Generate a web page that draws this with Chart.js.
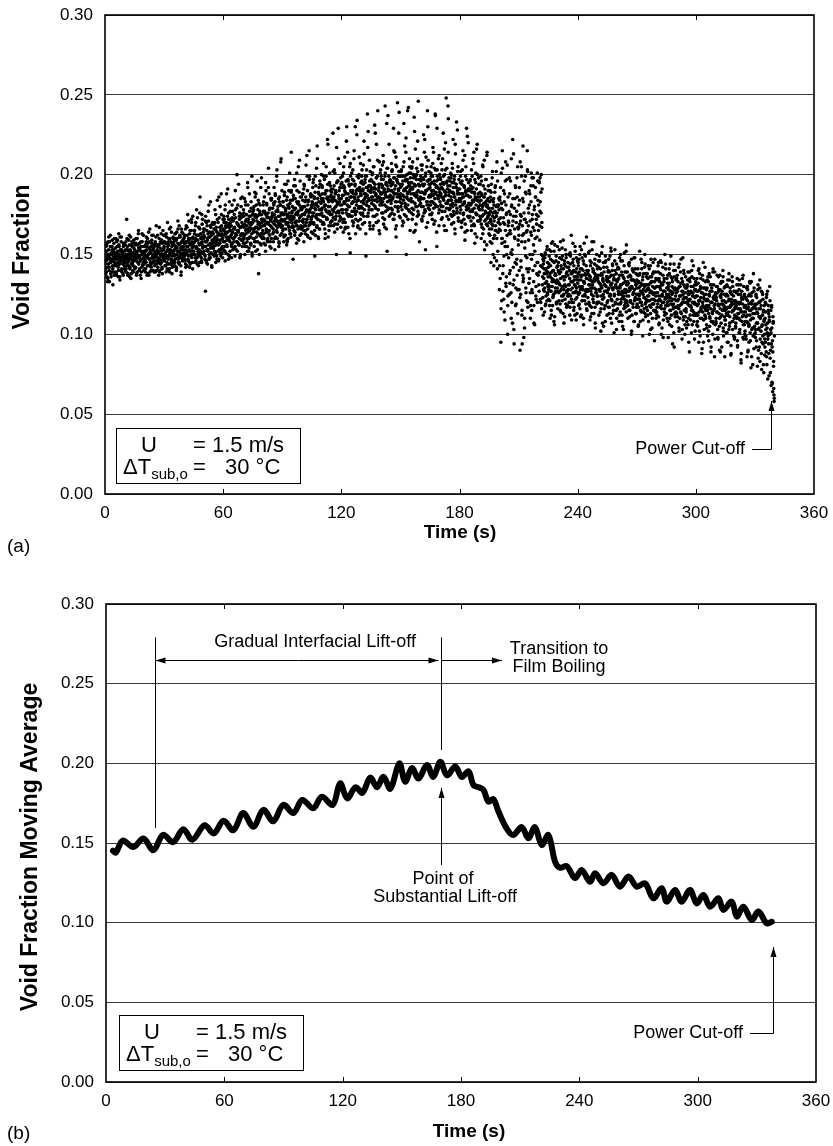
<!DOCTYPE html>
<html>
<head>
<meta charset="utf-8">
<script src="https://cdn.jsdelivr.net/npm/chart.js@4.4.1/dist/chart.umd.min.js"></script>
<style>
  html, body { margin: 0; padding: 0; background: #fff; }
  body { width: 833px; height: 1146px; position: relative; overflow: hidden; }
  canvas { position: absolute; left: 0; }
  #chartA { top: 0; }
  #chartB { top: 575px; }
</style>
</head>
<body>
<canvas id="chartA" width="833" height="560"></canvas>
<canvas id="chartB" width="833" height="571"></canvas>
<script>
// Void fraction vs time, U = 1.5 m/s, dT_sub,o = 30 C

// Axis ticks
const timeTicks = [0, 60, 120, 180, 240, 300, 360];
const voidTicks = [0, 0.05, 0.10, 0.15, 0.20, 0.25, 0.30];

// (a) raw void fraction samples, in thousandths, one every 0.25 s per pass;
//     three passes, each shifted by a fraction of a step
const rawStep = 0.25;
const raw0 = [
  148,141,155,152,136,149,158,144,150,133,147,162,145,139,153,150,131,146,157,143,
  151,144,160,138,149,155,147,142,163,150,136,153,146,158,141,149,152,137,156,148,
  145,156,150,139,172,148,153,143,159,147,136,152,161,144,149,155,140,151,146,157,
  153,142,148,160,137,151,156,145,165,149,141,154,147,158,139,152,150,144,162,148,
  146,155,139,152,161,148,143,157,150,137,154,166,145,151,142,159,148,153,140,156,
  152,143,158,149,168,146,140,155,151,137,160,147,154,144,163,150,141,157,148,153,
  155,146,162,150,139,157,152,170,144,158,149,141,160,153,147,164,138,156,151,145,
  158,149,143,163,154,140,160,152,171,147,156,145,162,151,143,166,155,148,159,150,
  153,161,147,157,142,168,155,150,175,146,159,152,163,144,157,149,170,154,141,160,
  157,150,165,145,160,154,178,148,162,152,143,167,156,186,151,161,146,158,172,155,
  160,152,166,147,127,158,170,153,144,163,156,181,150,161,148,167,157,142,164,154,
  163,155,149,170,158,145,167,160,184,152,162,147,173,157,151,165,188,154,160,148
];
const raw60 = [
  165,153,172,158,146,168,161,188,155,164,150,176,159,167,152,170,162,148,181,157,
  160,172,154,167,149,178,163,158,200,152,169,165,156,174,148,162,185,159,170,155,
  168,157,176,162,150,183,165,171,155,160,192,166,152,174,161,169,157,179,163,149,
  170,160,178,155,166,186,152,173,164,196,158,169,138,175,162,181,167,156,172,163,
  172,161,183,157,168,176,152,190,165,174,159,170,204,163,178,155,168,185,160,173,
  174,163,158,181,169,153,187,172,165,196,160,177,168,155,183,171,162,208,167,175,
  176,165,183,158,171,194,162,178,169,156,186,174,160,180,167,201,172,163,189,170,
  177,168,147,185,173,197,164,179,170,157,190,175,166,183,171,209,162,178,168,186,
  179,167,188,172,158,193,176,165,184,170,212,162,181,174,168,197,177,160,186,173,
  180,170,192,163,176,185,149,199,174,182,167,218,172,161,188,178,166,194,175,183,
  178,193,169,185,207,174,188,160,181,199,172,190,222,176,184,165,195,180,170,187,
  191,175,183,226,168,186,179,201,172,189,150,183,196,177,210,185,171,192,181,167
];
const raw120 = [
  185,172,199,178,164,193,182,211,170,188,176,230,181,167,196,184,175,205,151,190,
  186,201,174,190,168,183,215,179,194,163,188,177,234,184,171,198,180,190,166,207,
  187,175,203,169,191,182,221,178,195,186,149,199,183,238,174,190,180,209,168,193,
  189,178,196,184,166,205,181,192,174,226,187,198,170,183,240,178,194,186,163,201,
  188,199,176,192,183,212,169,190,181,243,177,195,186,152,204,191,179,219,184,197,
  190,182,207,176,194,186,229,172,198,188,166,211,183,196,245,179,191,202,174,187,
  192,180,203,187,168,196,184,232,175,199,190,214,150,186,197,181,242,193,177,205,
  191,201,183,195,172,208,188,178,236,193,165,199,186,204,180,221,190,175,197,184,
  193,182,206,189,171,198,185,225,176,194,188,153,211,190,181,240,196,179,202,187,
  192,186,201,175,195,183,217,190,169,204,188,237,180,193,155,199,185,210,191,178,
  191,198,181,207,186,173,195,226,184,190,165,203,187,248,179,196,183,214,172,189,
  190,179,201,186,169,195,182,222,188,175,199,163,192,184,233,177,190,205,183,171
];
const raw180 = [
  188,176,199,183,167,194,181,215,186,172,192,159,189,205,178,187,224,174,191,182,
  186,174,197,181,165,191,178,210,184,169,189,157,186,201,175,184,219,171,188,180,
  183,171,194,178,160,188,174,206,181,166,186,153,182,197,172,180,214,168,185,176,
  179,166,190,172,145,184,169,202,176,160,181,148,177,193,165,174,208,141,180,170,
  172,128,186,165,95,179,160,215,138,170,122,183,158,196,132,175,150,206,118,168,
  170,125,188,140,163,110,181,153,222,131,174,94,166,145,192,119,177,137,205,159,
  167,128,184,90,171,142,199,115,162,218,135,176,104,158,189,126,170,148,203,120,
  168,132,181,150,110,193,162,128,175,140,198,118,165,152,186,124,172,138,201,145,
  174,131,195,159,183,120,200,167,142,149,112,146,138,129,151,119,140,133,155,125,
  136,122,149,130,110,143,127,157,133,118,140,125,152,106,137,129,146,120,134,155,
  133,145,121,138,127,158,114,141,130,149,124,136,107,144,131,153,119,138,127,142,
  137,124,150,131,112,144,128,162,120,139,133,147,115,136,126,152,130,109,141,134
];
const raw240 = [
  132,145,118,139,126,155,111,136,129,148,121,140,106,133,150,124,137,128,161,115,
  127,138,151,120,134,109,143,129,117,158,131,122,140,113,135,147,104,126,137,119,
  141,124,133,112,149,128,137,102,130,119,155,134,125,142,116,131,108,146,127,136,
  120,135,128,147,113,139,124,131,152,107,129,143,118,134,101,125,140,130,115,144,
  133,116,142,125,108,137,129,150,120,131,112,146,126,103,135,122,139,117,128,156,
  124,139,110,132,127,145,115,121,136,100,130,141,119,126,134,108,148,123,131,113,
  129,118,137,105,133,124,152,120,127,114,141,131,99,125,138,116,130,144,111,122,
  117,131,124,143,108,128,121,136,113,147,126,104,133,119,139,122,96,129,115,135,
  126,112,134,121,145,106,130,117,138,124,100,132,120,142,109,127,114,150,123,118,
  113,129,120,137,98,125,132,110,144,119,127,105,135,122,116,140,92,128,111,124,
  121,135,108,127,118,142,102,124,130,114,147,119,97,133,125,111,138,120,106,129,
  116,104,130,122,139,110,125,89,133,118,127,101,136,115,124,143,108,120,131,112
];
const raw300 = [
  119,131,106,124,112,140,95,121,128,110,135,117,88,126,114,145,123,103,129,116,
  110,125,118,134,99,121,113,138,105,127,116,92,131,120,108,141,115,124,86,119,
  122,107,130,114,126,97,136,118,110,128,89,123,133,112,119,140,102,116,125,109,
  106,120,113,131,95,124,117,103,134,111,127,87,118,125,108,130,115,99,121,112,
  117,104,126,110,135,93,120,113,128,101,116,131,82,123,108,119,137,97,114,125,
  102,118,111,129,86,121,107,124,95,115,132,109,79,119,126,104,113,138,91,117,
  113,98,124,107,119,80,128,103,116,92,134,110,121,88,105,126,99,114,76,118,
  97,120,106,89,125,101,72,115,94,109,130,85,103,68,118,92,64,107,83,58
];
const rawB0 = [
  144,152,139,157,147,135,150,161,142,148,155,138,151,146,159,141,149,153,137,145,
  150,139,147,158,143,152,136,149,155,144,161,148,140,153,146,151,138,157,149,143,
  147,153,141,149,160,145,138,152,148,156,142,150,135,147,158,144,151,139,154,149,
  141,150,157,146,152,139,148,163,144,153,149,137,155,147,142,158,151,145,140,152,
  152,146,141,158,149,155,138,150,164,147,143,153,151,140,157,148,145,162,150,139,
  149,157,144,151,140,153,162,148,145,156,139,150,158,146,152,142,149,165,147,154,
  150,143,157,148,161,145,153,140,156,149,166,151,144,158,147,155,142,152,160,146,
  153,160,147,155,142,164,150,157,145,152,168,148,161,154,139,158,150,146,163,155,
  157,149,162,144,158,151,167,155,147,160,153,142,165,156,150,172,158,145,161,152,
  155,163,150,168,146,159,154,173,149,162,157,145,166,152,160,148,175,156,151,164,
  162,150,158,171,155,146,165,159,152,177,161,148,156,168,154,163,143,159,170,157,
  158,166,152,161,175,156,149,164,159,170,146,163,157,180,153,162,168,151,160,172
];
const rawB60 = [
  162,170,155,178,164,151,167,159,174,161,147,169,183,158,165,172,156,163,177,153,
  166,158,175,161,190,163,153,170,165,181,157,168,160,176,149,167,173,162,186,159,
  163,174,160,169,155,181,166,172,158,195,164,170,154,177,167,161,183,169,151,175,
  172,164,180,158,174,167,188,161,171,153,178,166,182,169,157,175,163,198,170,160,
  168,177,163,186,171,156,175,166,181,170,160,192,173,165,179,158,172,184,167,176,
  175,166,182,171,160,188,173,168,199,164,178,170,185,157,174,181,169,210,172,163,
  171,180,166,175,189,162,177,170,184,159,173,196,168,179,165,182,174,161,190,176,
  180,172,187,165,178,170,193,168,176,183,160,175,205,171,181,167,186,174,163,179,
  175,184,170,191,168,180,163,186,177,172,199,166,183,174,215,178,169,188,172,181,
  183,176,195,170,181,165,189,178,173,204,168,185,180,160,192,175,187,171,182,200,
  179,188,174,183,169,197,181,163,190,177,185,172,219,180,168,186,176,193,184,171,
  186,178,191,173,184,203,169,188,180,176,195,166,182,229,177,190,174,185,198,172
];
const rawB120 = [
  181,192,176,187,205,172,190,183,167,196,185,178,214,188,174,194,180,160,199,186,
  189,177,197,183,170,210,186,193,175,188,181,225,191,168,184,200,179,190,172,195,
  183,196,179,190,206,174,188,185,199,163,192,181,187,217,176,193,184,170,202,189,
  192,182,200,186,174,195,189,231,180,191,170,198,185,209,178,190,165,194,184,203,
  185,197,181,193,176,208,189,172,199,187,194,166,204,183,237,190,179,196,186,175,
  193,184,202,178,195,189,215,175,191,183,206,168,197,188,180,199,226,186,194,173,
  188,199,182,194,171,205,190,186,218,180,197,174,192,185,240,189,178,201,193,165,
  195,185,204,179,191,175,198,188,227,182,193,169,200,187,210,177,194,184,158,197,
  186,196,180,203,189,174,193,185,214,178,199,190,167,205,183,230,191,181,197,175,
  194,183,199,188,172,207,190,179,196,185,238,181,192,164,203,187,197,176,212,189,
  187,197,180,192,177,210,185,194,168,200,189,220,182,195,174,191,243,184,198,179,
  193,181,198,184,174,204,189,177,195,186,166,213,183,192,179,228,188,171,197,185
];
const rawB180 = [
  184,195,178,188,171,203,186,175,193,182,212,169,190,180,197,165,187,220,179,191,
  190,177,193,182,168,199,184,173,207,179,188,163,195,181,216,175,186,171,198,183,
  178,189,172,184,196,167,180,205,175,186,158,191,177,183,169,212,181,174,193,163,
  175,162,186,171,194,157,179,168,183,143,173,189,165,176,202,160,181,152,170,185,
  166,184,135,173,201,121,160,178,143,190,114,169,155,208,130,176,162,100,186,148,
  177,138,165,196,126,180,150,107,171,213,134,161,185,118,174,144,198,128,167,156,
  162,192,123,175,146,205,112,168,137,183,98,172,154,199,129,164,141,215,117,179,
  176,141,188,126,164,201,115,172,150,193,133,178,106,160,186,122,169,145,196,137,
  181,127,168,198,143,176,116,191,136,147,128,141,114,132,150,124,138,121,145,130,
  131,144,118,138,127,152,112,135,146,123,140,108,133,156,126,137,119,142,129,116,
  140,126,153,131,115,139,128,147,121,136,159,125,134,111,143,130,148,117,137,124,
  128,142,120,135,151,124,138,109,133,145,126,140,117,131,155,122,136,129,113,146
];
const rawB240 = [
  138,125,147,130,116,141,134,153,121,137,128,110,144,132,125,149,119,135,140,127,
  123,140,131,152,118,136,127,145,113,133,141,124,158,129,138,107,134,126,143,120,
  135,120,142,128,146,114,131,124,151,137,122,133,105,139,127,145,118,130,136,112,
  126,139,117,133,124,149,110,131,137,121,144,128,115,135,125,153,120,134,103,129,
  122,134,127,141,112,130,119,146,125,108,137,123,132,116,151,128,120,139,114,131,
  131,118,136,124,143,111,128,120,134,102,129,140,117,126,148,121,133,113,138,125,
  119,132,125,106,137,122,130,115,147,127,118,134,109,128,123,142,113,131,120,136,
  128,115,135,121,131,100,126,143,117,133,122,110,138,125,119,129,147,114,124,135,
  114,130,119,139,124,107,133,121,128,145,116,125,131,98,127,135,112,122,141,118,
  125,110,132,118,128,141,106,123,115,136,121,130,94,126,119,144,113,129,117,134,
  117,128,111,133,122,104,130,118,139,124,113,127,120,148,109,131,123,100,126,115,
  123,108,131,119,127,95,121,135,112,126,117,140,106,124,130,114,119,128,102,133
];
const rawB300 = [
  112,127,118,105,132,121,114,138,99,123,116,129,91,120,134,109,125,117,142,111,
  121,106,129,115,136,102,118,124,110,131,89,120,127,113,139,107,122,116,97,126,
  108,123,114,130,98,119,127,105,137,116,111,125,92,121,133,104,118,129,86,115,
  117,101,125,112,134,95,114,122,107,129,118,88,120,136,103,115,124,110,98,127,
  105,120,111,127,92,116,131,101,119,109,125,84,114,122,135,98,112,124,106,118,
  114,99,122,108,130,89,117,105,125,112,96,120,133,103,116,81,110,127,100,119,
  101,116,92,123,107,113,85,120,104,129,97,111,118,78,106,125,94,115,109,87,
  110,95,119,86,104,127,99,113,74,108,121,90,101,117,70,96,111,80,62,99
];
const rawC0 = [
  151,138,146,156,142,133,149,153,140,158,145,150,136,147,155,143,152,139,148,160,
  143,154,149,137,151,159,145,140,156,148,134,152,146,161,139,150,144,155,147,141,
  152,140,158,147,143,155,137,150,146,162,141,153,149,138,156,145,151,143,159,148,
  147,156,142,151,138,160,149,145,154,140,157,146,152,135,150,163,143,155,148,144,
  150,141,156,145,153,137,160,148,143,158,151,139,147,155,144,162,149,140,154,146,
  155,148,139,161,150,144,156,142,152,147,167,140,157,149,145,159,138,153,150,162,
  148,158,151,143,163,149,141,155,147,160,153,139,150,167,145,157,149,143,161,152,
  156,145,163,150,159,141,154,148,166,152,144,161,149,157,137,153,164,147,158,151,
  160,151,146,166,153,158,143,162,155,149,171,157,145,160,152,165,148,156,174,150,
  152,165,158,148,170,155,162,144,159,151,167,153,176,149,163,157,145,169,154,161,
  166,155,161,149,174,158,145,168,160,153,171,147,164,157,183,151,162,169,155,150,
  154,169,160,178,151,165,157,147,172,162,156,186,153,167,159,149,175,163,155,166
];
const rawC60 = [
  158,174,166,152,181,163,170,156,168,191,160,172,149,165,177,161,168,155,173,164,
  171,160,184,166,155,173,162,179,158,169,164,194,156,172,167,150,180,163,175,168,
  160,178,167,185,157,171,163,175,168,152,181,172,160,188,165,174,156,170,199,166,
  177,166,171,160,189,175,158,181,167,174,163,184,170,150,177,168,192,161,175,171,
  165,181,172,160,177,169,195,164,182,173,158,176,169,188,162,179,171,154,185,174,
  179,170,164,192,175,183,161,177,171,203,167,180,174,158,186,169,181,176,163,190,
  168,183,175,161,187,172,179,166,194,175,158,181,170,190,176,163,184,172,214,167,
  184,174,167,193,179,162,185,175,171,201,168,182,177,159,189,173,196,180,166,178,
  171,188,180,165,194,175,183,168,206,178,172,190,161,184,176,199,170,187,179,164,
  187,174,182,197,169,186,179,162,193,181,175,210,172,189,183,166,196,178,171,185,
  176,192,184,170,199,180,166,188,178,205,173,186,194,161,183,177,201,175,190,168,
  189,171,185,202,177,193,164,184,190,174,217,181,169,196,187,176,183,207,173,194
];
const rawC120 = [
  178,195,187,170,201,183,192,166,189,178,221,184,175,197,180,163,193,186,207,174,
  194,182,171,203,188,196,177,185,230,172,190,183,199,167,186,179,211,192,176,188,
  180,199,190,176,194,184,213,170,197,188,181,203,174,192,227,185,178,196,166,190,
  197,186,178,201,191,168,205,184,194,179,188,219,175,199,186,171,192,208,181,189,
  182,194,188,206,173,197,185,191,167,201,189,180,232,193,178,186,199,174,195,187,
  196,179,190,203,185,172,198,188,214,180,193,161,205,186,195,177,190,239,183,199,
  185,202,193,178,199,187,170,208,191,182,196,223,179,200,188,172,195,184,210,190,
  198,188,176,205,192,183,200,164,194,187,216,180,197,189,174,202,246,185,193,181,
  189,199,185,172,206,194,180,197,188,222,177,201,190,183,196,170,209,186,194,178,
  197,181,205,190,176,199,187,214,182,194,171,203,189,196,229,180,192,185,168,200,
  183,194,188,172,203,191,180,199,186,216,177,195,189,165,204,182,193,235,187,178,
  196,184,175,200,189,207,180,192,170,197,186,219,181,194,176,188,202,173,191,184
];
const rawC180 = [
  191,180,202,185,170,196,188,209,176,193,183,164,199,187,229,178,190,181,195,173,
  181,196,186,171,203,189,177,192,183,214,168,197,185,176,191,161,200,184,179,194,
  186,174,181,199,169,187,178,163,193,182,209,171,188,176,197,156,184,173,190,179,
  170,183,158,177,189,166,198,174,150,185,171,162,192,168,180,146,176,196,164,181,
  178,143,169,192,116,182,157,204,127,173,149,188,109,165,181,136,197,155,124,171,
  163,198,132,175,151,210,120,168,185,142,103,179,160,193,129,170,147,186,113,166,
  181,140,169,208,125,174,158,94,185,133,163,196,110,172,149,188,121,165,202,139,
  159,190,135,171,118,183,147,198,126,167,156,107,180,143,192,130,175,161,120,184,
  165,196,139,177,122,189,150,170,131,123,144,135,127,148,118,141,132,153,126,139,
  142,128,153,121,136,147,115,139,130,158,124,134,145,111,138,127,149,132,120,143,
  127,139,132,148,119,135,143,124,154,130,113,141,128,146,122,136,150,126,139,118,
  145,131,125,140,117,149,133,122,138,129,157,120,143,134,112,139,127,148,123,136
];
const rawC240 = [
  126,143,134,119,150,128,137,112,141,130,124,146,133,157,121,138,127,143,116,135,
  140,128,119,137,131,146,111,134,125,153,129,139,120,133,144,117,136,128,150,124,
  124,137,146,120,132,127,141,116,138,129,107,135,145,123,131,118,149,127,134,142,
  133,121,140,129,117,136,125,154,122,132,140,113,129,137,124,146,119,131,138,110,
  129,141,119,135,126,148,114,131,122,139,127,105,136,124,143,118,133,126,152,121,
  120,133,127,144,115,129,137,121,130,147,112,134,125,139,108,128,122,141,131,117,
  134,122,141,117,129,125,138,108,132,120,145,126,136,114,131,123,150,119,127,138,
  121,138,112,129,124,141,118,132,103,127,136,119,130,145,115,126,133,121,139,110,
  130,117,126,143,111,135,122,129,146,118,131,104,124,137,120,133,116,127,144,123,
  118,135,123,108,130,121,138,115,127,149,112,125,133,118,129,101,136,122,140,114,
  126,113,137,121,129,116,144,110,124,132,119,135,103,127,122,140,115,130,111,136,
  114,129,120,134,106,125,118,139,122,109,130,115,146,120,126,112,135,97,123,128
];
const rawC300 = [
  124,113,135,108,127,119,141,102,121,130,115,126,110,137,118,95,129,122,112,133,
  115,128,104,122,117,133,96,125,111,136,120,108,129,114,100,123,131,118,139,106,
  125,110,121,137,103,118,128,113,90,124,132,107,119,127,115,136,99,121,111,130,
  109,124,116,101,130,112,121,138,105,117,126,93,122,114,133,108,119,127,97,116,
  121,107,118,131,96,113,125,110,134,103,120,115,88,127,111,122,106,130,117,100,
  108,123,97,116,112,128,90,119,106,133,101,115,124,86,110,121,99,117,129,105,
  118,103,125,96,114,107,131,90,111,120,83,116,102,127,95,112,122,81,108,100,
  92,114,103,123,81,107,97,118,88,111,100,76,115,94,104,69,89,108,66,60
];
// pass shift (s) and its chunks: [start time (s), samples]
const rawPasses = [
  [0, [[0, raw0], [60, raw60], [120, raw120], [180, raw180], [240, raw240], [300, raw300]]],
  [0.17, [[0, rawB0], [60, rawB60], [120, rawB120], [180, rawB180], [240, rawB240], [300, rawB300]]],
  [0.08, [[0, rawC0], [60, rawC60], [120, rawC120], [180, rawC180], [240, rawC240], [300, rawC300]]]
];

// (b) moving average, read at peaks and troughs of the trace
const maTime = [
  3.5, 5.0, 8.5, 13.8, 19.0, 24.0, 29.0, 34.0, 39.2, 43.8, 50.0, 54.6, 59.6, 64.6,
  69.6, 74.7, 79.8, 84.8, 89.9, 95.0, 99.5, 105.1, 109.4, 115.0, 118.7, 122.3, 126.5,
  130.0, 134.0, 137.4, 140.7, 144.2, 148.7, 151.7, 155.1, 158.5, 162.7, 166.0, 169.5,
  172.9, 177.1, 180.4, 183.8, 186.3, 189.0, 191.4, 193.9, 196.4, 199.0, 203.2, 206.5,
  210.8, 214.1, 217.5, 220.9, 224.3, 227.7, 230.2, 233.6, 237.8, 241.2, 245.4, 248.0,
  252.2, 256.4, 260.6, 264.9, 269.1, 273.3, 277.5, 281.8, 284.3, 288.5, 291.9, 296.1,
  299.5, 302.9, 306.3, 310.5, 313.0, 317.3, 319.8, 323.2, 327.4, 330.8, 335.0, 337.6
];
const maValue = [
  0.1452, 0.1440, 0.1515, 0.1475, 0.1528, 0.1455, 0.1552, 0.1505, 0.1586, 0.1520, 0.1612, 0.1560, 0.1640, 0.1580,
  0.1688, 0.1602, 0.1708, 0.1636, 0.1740, 0.1688, 0.1770, 0.1718, 0.1790, 0.1740, 0.1875, 0.1780, 0.1850,
  0.1815, 0.1910, 0.1850, 0.1916, 0.1840, 0.2000, 0.1885, 0.1970, 0.1905, 0.1990, 0.1915, 0.2010,
  0.1925, 0.1980, 0.1915, 0.1950, 0.1864, 0.1850, 0.1833, 0.1760, 0.1775, 0.1697, 0.1590, 0.1550,
  0.1600, 0.1530, 0.1600, 0.1488, 0.1550, 0.1383, 0.1345, 0.1355, 0.1280, 0.1330, 0.1257, 0.1310,
  0.1247, 0.1300, 0.1226, 0.1290, 0.1226, 0.1247, 0.1153, 0.1216, 0.1132, 0.1205, 0.1132, 0.1205,
  0.1121, 0.1174, 0.1100, 0.1153, 0.1080, 0.1132, 0.1038, 0.1100, 0.1017, 0.1070, 0.0996, 0.1006
];

const FONT = '"Liberation Sans", Arial, Helvetica, sans-serif';

// Build scatter points for panel (a)
function buildRawPoints() {
  const pts = [];
  rawPasses.forEach(([shift, chunks]) => {
    chunks.forEach(([start, vals]) => {
      vals.forEach((v, i) => pts.push({ x: start + shift + i * rawStep, y: v / 1000 }));
    });
  });
  return pts;
}

// Arrow helpers
function arrowHead(ctx, x, y, dx, dy) {
  const len = 10, half = 3;
  ctx.beginPath();
  ctx.moveTo(x, y);
  ctx.lineTo(x - dx * len - dy * half, y - dy * len + dx * half);
  ctx.lineTo(x - dx * len + dy * half, y - dy * len - dx * half);
  ctx.closePath();
  ctx.fill();
}
function arrow(ctx, x1, y1, x2, y2) {
  ctx.beginPath();
  ctx.moveTo(x1, y1);
  ctx.lineTo(x2, y2);
  ctx.stroke();
  const d = Math.hypot(x2 - x1, y2 - y1);
  arrowHead(ctx, x2, y2, (x2 - x1) / d, (y2 - y1) / d);
}
function segment(ctx, x1, y1, x2, y2) {
  ctx.beginPath();
  ctx.moveTo(x1, y1);
  ctx.lineTo(x2, y2);
  ctx.stroke();
}

// Frame, inner ticks and the condition box shared by both panels
function drawFrame(chart) {
  const { ctx, chartArea: a, scales: { x } } = chart;
  ctx.strokeStyle = '#000';
  ctx.lineWidth = 1.6;
  ctx.strokeRect(a.left, a.top, a.right - a.left, a.bottom - a.top);
  ctx.lineWidth = 1;
  timeTicks.slice(1, -1).forEach(t => {
    const px = Math.round(x.getPixelForValue(t)) + 0.5;
    segment(ctx, px, a.top, px, a.top + 5);
    segment(ctx, px, a.bottom, px, a.bottom - 5);
  });
}
function drawConditions(ctx, left, top) {
  ctx.strokeStyle = '#000';
  ctx.lineWidth = 1;
  ctx.fillStyle = '#fff';
  ctx.fillRect(left, top, 184, 55);
  ctx.strokeRect(left + 0.5, top + 0.5, 184, 55);
  ctx.fillStyle = '#000';
  ctx.textAlign = 'left';
  ctx.textBaseline = 'alphabetic';
  ctx.font = `22px ${FONT}`;
  ctx.fillText('U', left + 25, top + 24);
  ctx.fillText('= 1.5 m/s', left + 77, top + 24);
  ctx.fillText('\u0394T', left + 7, top + 46);
  const w = ctx.measureText('\u0394T').width;
  ctx.font = `15px ${FONT}`;
  ctx.fillText('sub,o', left + 7 + w, top + 51);
  ctx.font = `22px ${FONT}`;
  ctx.fillText('=', left + 77, top + 46);
  ctx.fillText('30 \u00B0C', left + 109, top + 46);
}
function drawText(ctx, txt, x, y, font, align) {
  ctx.font = font;
  ctx.textAlign = align || 'center';
  ctx.textBaseline = 'middle';
  ctx.fillText(txt, x, y);
}
function drawYTitle(ctx, txt, x, y) {
  ctx.save();
  ctx.translate(x, y);
  ctx.rotate(-Math.PI / 2);
  drawText(ctx, txt, 0, 0, `bold 23px ${FONT}`);
  ctx.restore();
}
function powerCutoff(chart, tText, tArrow, vLine, vTip) {
  const { ctx, scales: { x, y } } = chart;
  const ax = Math.round(x.getPixelForValue(tArrow)) + 0.5;
  const ly = Math.round(y.getPixelForValue(vLine)) + 0.5;
  const tx = x.getPixelForValue(tText);
  drawText(ctx, 'Power Cut-off', tx, ly, `18px ${FONT}`, 'right');
  ctx.lineWidth = 1;
  segment(ctx, tx + 7, ly, ax, ly);
  arrow(ctx, ax, ly, ax, y.getPixelForValue(vTip));
}

// Fixed axis sizes, no extra padding for overhanging labels
function fixPadding(s) {
  s.paddingLeft = 0; s.paddingRight = 0; s.paddingTop = 0; s.paddingBottom = 0;
}
function scalesConfig(yWidth) {
  return {
    x: {
      type: 'linear', min: 0, max: 360,
      afterBuildTicks: s => { s.ticks = timeTicks.map(v => ({ value: v })); },
      ticks: { color: '#000', font: { family: FONT, size: 17 }, padding: 9, maxRotation: 0 },
      grid: { display: false, drawTicks: false },
      border: { display: false },
      afterFit: s => { s.height = 30; fixPadding(s); }
    },
    y: {
      min: 0, max: 0.30,
      afterBuildTicks: s => { s.ticks = voidTicks.map(v => ({ value: v })); },
      ticks: { color: '#000', font: { family: FONT, size: 17 }, padding: 12, callback: v => v.toFixed(2) },
      grid: { color: '#3a3a3a', lineWidth: 1, drawTicks: false },
      border: { display: false },
      afterFit: s => { s.width = yWidth; fixPadding(s); }
    }
  };
}

// Panel (a): raw void fraction
new Chart(document.getElementById('chartA'), {
  type: 'scatter',
  data: {
    datasets: [{
      data: buildRawPoints(),
      pointRadius: 1.8,
      pointBackgroundColor: '#000',
      pointBorderWidth: 0
    }]
  },
  options: {
    responsive: false,
    animation: false,
    events: [],
    layout: { padding: { left: 0, right: 19, top: 15, bottom: 36 } },
    plugins: { legend: { display: false }, tooltip: { enabled: false } },
    scales: scalesConfig(105)
  },
  plugins: [{
    id: 'panelA',
    afterDraw(chart) {
      const { ctx, chartArea: a } = chart;
      ctx.save();
      ctx.fillStyle = '#000';
      drawFrame(chart);
      drawConditions(ctx, a.left + 11, a.bottom - 66);
      powerCutoff(chart, 325, 338.2, 0.0282, 0.0582);
      drawText(ctx, 'Time (s)', 460, 533, `bold 19px ${FONT}`);
      drawText(ctx, '(a)', 7, 547, `19px ${FONT}`, 'left');
      drawYTitle(ctx, 'Void Fraction', 23, 257);
      ctx.restore();
    }
  }]
});

// Panel (b): moving average
new Chart(document.getElementById('chartB'), {
  type: 'line',
  data: {
    datasets: [{
      data: maTime.map((t, i) => ({ x: t, y: maValue[i] })),
      borderColor: '#000',
      borderWidth: 6,
      pointRadius: 0,
      tension: 0.35,
      borderJoinStyle: 'round',
      borderCapStyle: 'round'
    }]
  },
  options: {
    responsive: false,
    animation: false,
    events: [],
    layout: { padding: { left: 0, right: 17, top: 29, bottom: 34 } },
    plugins: { legend: { display: false }, tooltip: { enabled: false } },
    scales: scalesConfig(106)
  },
  plugins: [{
    id: 'panelB',
    afterDraw(chart) {
      const { ctx, chartArea: a, scales: { x, y } } = chart;
      ctx.save();
      ctx.fillStyle = '#000';
      ctx.strokeStyle = '#000';
      drawFrame(chart);
      drawConditions(ctx, a.left + 13, a.bottom - 67);
      powerCutoff(chart, 323, 338.2, 0.0308, 0.0847);

      // lift-off regions
      ctx.lineWidth = 1;
      const x1 = Math.round(x.getPixelForValue(25)) + 0.5;
      const x2 = Math.round(x.getPixelForValue(170)) + 0.5;
      const x3 = x.getPixelForValue(200.8);
      const yTop = y.getPixelForValue(0.279);
      const yArr = Math.round(y.getPixelForValue(0.2649)) + 0.5;
      segment(ctx, x1, yTop, x1, y.getPixelForValue(0.1594));
      segment(ctx, x2, yTop, x2, y.getPixelForValue(0.2084));
      arrow(ctx, (x1 + x2) / 2, yArr, x1, yArr);
      arrow(ctx, (x1 + x2) / 2, yArr, x2 - 3, yArr);
      arrow(ctx, x2, yArr, x3, yArr);
      arrow(ctx, x2, y.getPixelForValue(0.1362), x2, y.getPixelForValue(0.1845));

      const f = `18px ${FONT}`;
      drawText(ctx, 'Gradual Interfacial Lift-off', x.getPixelForValue(106), y.getPixelForValue(0.2762), f);
      drawText(ctx, 'Transition to', x.getPixelForValue(229.7), y.getPixelForValue(0.2718), f);
      drawText(ctx, 'Film Boiling', x.getPixelForValue(229.7), y.getPixelForValue(0.2605), f);
      drawText(ctx, 'Point of', x.getPixelForValue(170.9), y.getPixelForValue(0.1274), f);
      drawText(ctx, 'Substantial Lift-off', x.getPixelForValue(171.9), y.getPixelForValue(0.1161), f);

      drawText(ctx, 'Time (s)', 469, 557, `bold 19px ${FONT}`);
      drawText(ctx, '(b)', 7, 559, `19px ${FONT}`, 'left');
      drawYTitle(ctx, 'Void Fraction Moving Average', 31, 272);
      ctx.restore();
    }
  }]
});
</script>
</body>
</html>
